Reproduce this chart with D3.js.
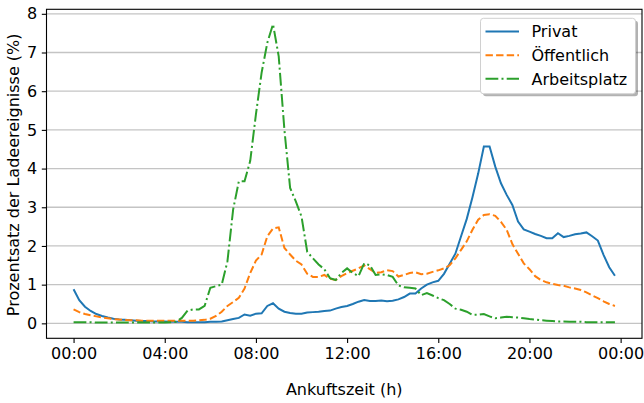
<!DOCTYPE html>
<html><head><meta charset="utf-8">
<script src="https://cdn.jsdelivr.net/npm/d3@7"></script>
<style>
html,body{margin:0;padding:0;background:#fff;}
svg{display:block;font-family:"DejaVu Sans",sans-serif;}
</style></head>
<body><svg id="c" width="644" height="403"></svg>
<script>
// Time slots (15-minute bins)
const times = [
"00:00","00:15","00:30","00:45","01:00","01:15","01:30","01:45",
"02:00","02:15","02:30","02:45","03:00","03:15","03:30","03:45",
"04:00","04:15","04:30","04:45","05:00","05:15","05:30","05:45",
"06:00","06:15","06:30","06:45","07:00","07:15","07:30","07:45",
"08:00","08:15","08:30","08:45","09:00","09:15","09:30","09:45",
"10:00","10:15","10:30","10:45","11:00","11:15","11:30","11:45",
"12:00","12:15","12:30","12:45","13:00","13:15","13:30","13:45",
"14:00","14:15","14:30","14:45","15:00","15:15","15:30","15:45",
"16:00","16:15","16:30","16:45","17:00","17:15","17:30","17:45",
"18:00","18:15","18:30","18:45","19:00","19:15","19:30","19:45",
"20:00","20:15","20:30","20:45","21:00","21:15","21:30","21:45",
"22:00","22:15","22:30","22:45","23:00","23:15","23:30","23:45"];

const privat = [
0.88,0.6,0.43,0.32,0.24,0.19,0.15,0.12,
0.1,0.09,0.08,0.07,0.06,0.06,0.05,0.05,
0.05,0.04,0.04,0.04,0.03,0.03,0.03,0.03,
0.04,0.04,0.05,0.08,0.11,0.14,0.23,0.2,
0.25,0.26,0.45,0.52,0.38,0.3,0.27,0.25,
0.25,0.28,0.29,0.3,0.32,0.33,0.38,0.42,
0.45,0.5,0.56,0.6,0.58,0.58,0.59,0.57,
0.585,0.62,0.68,0.77,0.77,0.9,1.0,1.06,
1.1,1.28,1.54,1.8,2.25,2.7,3.26,3.87,
4.57,4.57,4.05,3.62,3.32,3.06,2.63,2.43,
2.37,2.31,2.26,2.2,2.2,2.33,2.23,2.26,
2.3,2.32,2.35,2.25,2.14,1.77,1.45,1.23];

const oeffentlich = [
0.36,0.29,0.24,0.21,0.18,0.15,0.13,0.11,
0.1,0.09,0.08,0.08,0.07,0.07,0.07,0.07,
0.07,0.07,0.07,0.07,0.07,0.07,0.08,0.09,
0.12,0.19,0.3,0.45,0.55,0.66,0.9,1.3,
1.62,1.78,2.25,2.45,2.48,1.95,1.78,1.62,
1.52,1.28,1.2,1.2,1.25,1.15,1.12,1.22,
1.3,1.36,1.42,1.5,1.4,1.3,1.32,1.37,
1.35,1.21,1.25,1.3,1.32,1.27,1.28,1.33,
1.37,1.42,1.5,1.68,1.9,2.12,2.42,2.68,
2.8,2.82,2.78,2.62,2.42,2.05,1.8,1.55,
1.4,1.22,1.12,1.06,1.02,0.99,0.97,0.93,
0.9,0.86,0.8,0.72,0.65,0.57,0.5,0.45];

const arbeitsplatz = [
0.03,0.03,0.03,0.03,0.02,0.02,0.02,0.02,
0.02,0.02,0.02,0.02,0.02,0.02,0.02,0.02,
0.02,0.03,0.04,0.14,0.33,0.36,0.36,0.45,
0.92,0.96,1.0,1.6,2.94,3.67,3.67,4.2,
5.4,6.48,7.25,7.73,6.9,5.0,3.5,3.15,
2.76,1.85,1.68,1.52,1.4,1.17,1.12,1.3,
1.42,1.3,1.22,1.55,1.5,1.25,1.27,1.25,
1.2,0.98,0.93,0.92,0.9,0.73,0.78,0.72,
0.65,0.6,0.5,0.38,0.35,0.3,0.22,0.22,
0.24,0.18,0.13,0.15,0.17,0.16,0.15,0.13,
0.11,0.1,0.08,0.07,0.06,0.05,0.05,0.04,
0.04,0.04,0.03,0.03,0.03,0.03,0.03,0.03];

const seriesNames = ["Privat","Öffentlich","Arbeitsplatz"];
const xTickValues = [0,4,8,12,16,20,24];
const xTickLabels = ["00:00","04:00","08:00","12:00","16:00","20:00","00:00"];
const yTickValues = [0,1,2,3,4,5,6,7,8];
const xLabel = "Ankuftszeit (h)";
const yLabel = "Prozentsatz der Ladeereignisse (%)";

const toHours = s => { const [h,m] = s.split(":").map(Number); return h + m/60; };
const hours = times.map(toHours);

const L = 46.5, R = 642, T = 9.3, B = 338.3;
const xMax = hours[hours.length-1];
const x = d3.scaleLinear().domain([-0.05*xMax, xMax*1.05]).range([L, R]);
const yMaxData = d3.max(arbeitsplatz);
const y = d3.scaleLinear().domain([-0.05*yMaxData, yMaxData*1.05]).range([B, T]);

const svg = d3.select("#c");

// grid
svg.append("g").selectAll("line").data(yTickValues).join("line")
  .attr("x1", L).attr("x2", R)
  .attr("y1", d => y(d)).attr("y2", d => y(d))
  .attr("stroke", "#b0b0b0").attr("stroke-opacity", 0.75).attr("stroke-width", 1.3);

// lines
const styles = [
  {data: privat, color: "#1f77b4", dash: null},
  {data: oeffentlich, color: "#ff7f0e", dash: "7.4,3.2"},
  {data: arbeitsplatz, color: "#2ca02c", dash: "12.8,3.2,2,3.2"}
];
const line = d3.line().x((d,i) => x(hours[i])).y(d => y(d));
svg.append("clipPath").attr("id","cp").append("rect")
  .attr("x", L).attr("y", T).attr("width", R-L).attr("height", B-T);
styles.forEach(s => {
  svg.append("path").attr("d", line(s.data))
    .attr("fill","none").attr("stroke", s.color).attr("stroke-width", 2)
    .attr("stroke-dasharray", s.dash).attr("clip-path","url(#cp)");
});

// axes
const xAxis = d3.axisBottom(x).tickValues(xTickValues)
  .tickFormat((d,i) => xTickLabels[i]).tickSize(4.7).tickPadding(4.7);
const gx = svg.append("g").attr("transform", `translate(0,${B})`).call(xAxis);
const yAxis = d3.axisLeft(y).tickValues(yTickValues).tickFormat(d3.format("d"))
  .tickSize(4.7).tickPadding(4.7);
const gy = svg.append("g").attr("transform", `translate(${L},0)`).call(yAxis);
[gx, gy].forEach(g => {
  g.select(".domain").remove();
  g.selectAll("text").attr("font-size", 16).attr("fill", "#000")
    .attr("font-family", "DejaVu Sans");
  g.selectAll("line").attr("stroke", "#000").attr("stroke-width", 1.1);
});

// frame
svg.append("rect").attr("x", L).attr("y", T).attr("width", R-L).attr("height", B-T)
  .attr("fill","none").attr("stroke","#000").attr("stroke-width",1.1);

// labels
svg.append("text").attr("x", (L+R)/2).attr("y", 395)
  .attr("text-anchor","middle").attr("font-size",16).text(xLabel);
svg.append("text").attr("transform", `translate(18.5,${(T+B)/2 + 1}) rotate(-90)`)
  .attr("text-anchor","middle").attr("font-size",16).text(yLabel);

// legend
const lg = svg.append("g");
const lx = 480.5, ly = 18.3, lw = 155, lh = 75.5;
lg.append("rect").attr("x", lx+2.5).attr("y", ly+2.5).attr("width", lw).attr("height", lh)
  .attr("rx", 3).attr("fill", "#000").attr("fill-opacity", 0.3);
lg.append("rect").attr("x", lx).attr("y", ly).attr("width", lw).attr("height", lh)
  .attr("rx", 3).attr("fill", "#fff").attr("stroke", "#d0d0d0").attr("stroke-width", 1);
seriesNames.forEach((name, i) => {
  const yy = ly + 13.3 + i*23.6;
  lg.append("line").attr("x1", 485.5).attr("x2", 519).attr("y1", yy).attr("y2", yy)
    .attr("stroke", styles[i].color).attr("stroke-width", 2)
    .attr("stroke-dasharray", styles[i].dash);
  lg.append("text").attr("x", 531.5).attr("y", yy).attr("dy", "0.36em")
    .attr("font-size", 16).text(name);
});
</script></body></html>
